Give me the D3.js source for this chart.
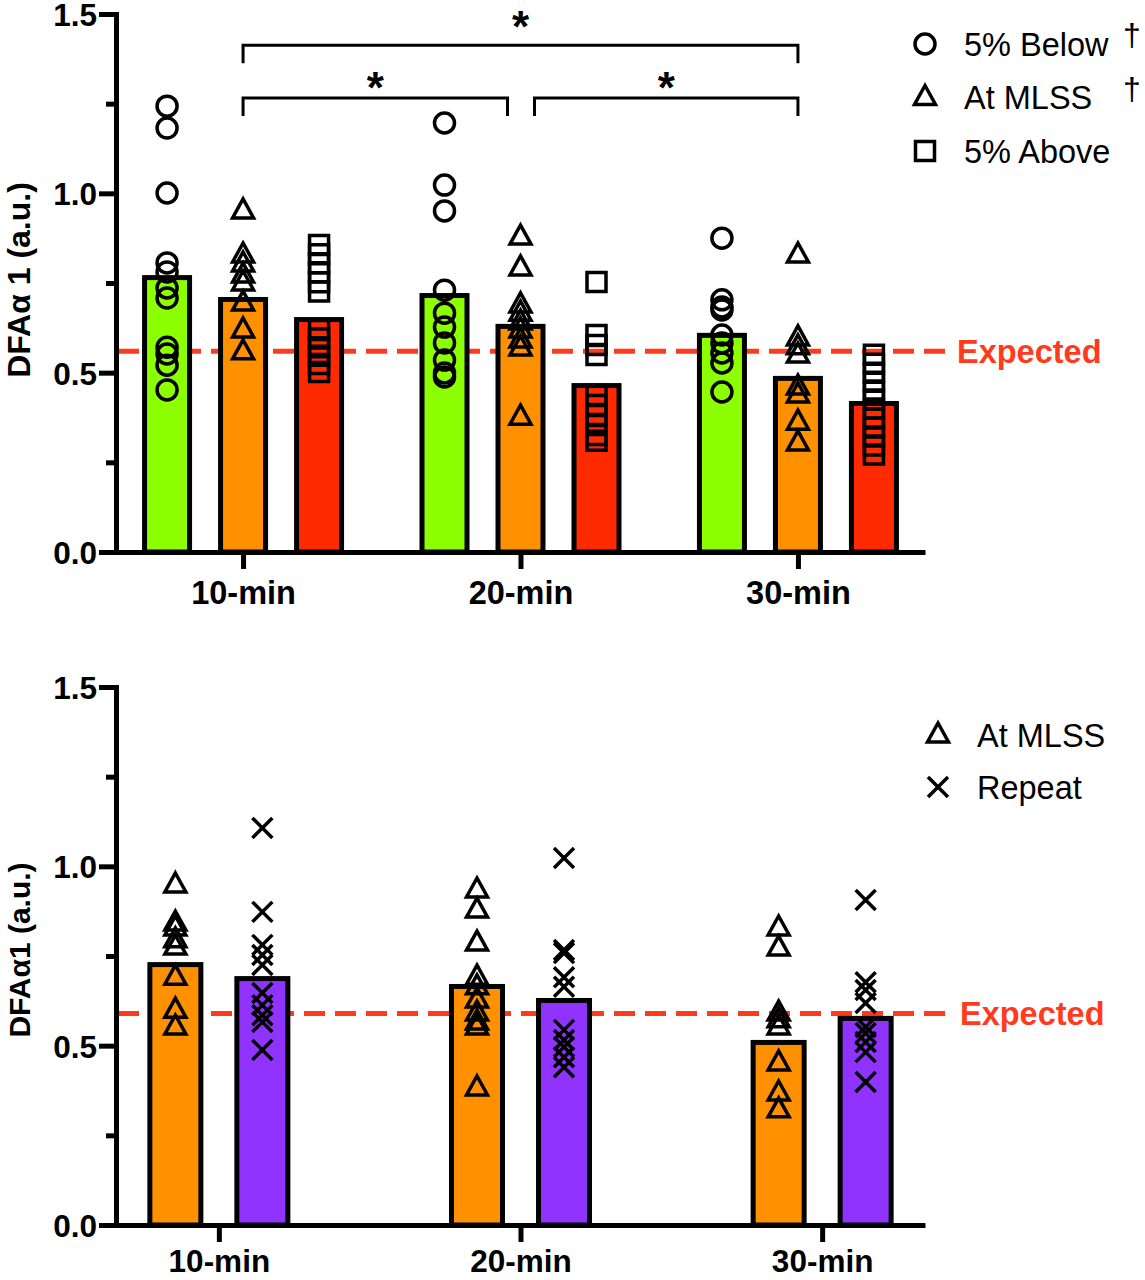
<!DOCTYPE html>
<html>
<head>
<meta charset="utf-8">
<script src="https://cdn.jsdelivr.net/npm/d3@7"></script>
<style>
  body { margin: 0; background: #fff; }
  svg { display: block; }
  text { font-family: "Liberation Sans", Arial, Helvetica, sans-serif; }
</style>
</head>
<body>
<svg id="chart" width="1145" height="1280"></svg>
<script>
// ---------- DATA ----------
const categories = ["10-min", "20-min", "30-min"];
const yTicks = [0, 0.5, 1.0, 1.5];
const yMinorTicks = [0.25, 0.75, 1.25];

// Top panel
const topSeries = ["5% Below", "At MLSS", "5% Above"];
const below5Means = [0.772, 0.722, 0.611];
const mlssMeans = [0.711, 0.636, 0.491];
const above5Means = [0.655, 0.471, 0.421];
const below5Points = [
  [1.243, 1.182, 1.001, 0.806, 0.781, 0.736, 0.708, 0.571, 0.552, 0.521, 0.452],
  [1.196, 1.023, 0.951, 0.730, 0.666, 0.627, 0.583, 0.535, 0.499, 0.488],
  [0.875, 0.703, 0.683, 0.675, 0.605, 0.583, 0.555, 0.527, 0.446]
];
const mlssPoints = [
  [0.951, 0.828, 0.803, 0.772, 0.750, 0.694, 0.619, 0.558],
  [0.878, 0.792, 0.689, 0.666, 0.641, 0.619, 0.591, 0.569, 0.376],
  [0.828, 0.597, 0.572, 0.549, 0.460, 0.438, 0.362, 0.304]
];
const above5Points = [
  [0.856, 0.830, 0.805, 0.780, 0.752, 0.726, 0.619, 0.595, 0.571, 0.547, 0.524, 0.502],
  [0.753, 0.605, 0.577, 0.549, 0.438, 0.410, 0.382, 0.354, 0.326, 0.310],
  [0.550, 0.525, 0.500, 0.475, 0.450, 0.425, 0.400, 0.372, 0.347, 0.322, 0.297, 0.272]
];
const topExpected = 0.56;
const topDaggers = ["5% Below", "At MLSS"];
const sigPairs = [["10-min", "30-min"], ["10-min", "20-min"], ["20-min", "30-min"]];
const sigLevels = [1.413, 1.266, 1.266];
const sigLabels = ["*", "*", "*"];

// Bottom panel
const bottomSeries = ["At MLSS", "Repeat"];
const mlss2Means = [0.733, 0.672, 0.516];
const repeatMeans = [0.694, 0.633, 0.583];
const mlss2Points = [
  [0.948, 0.842, 0.828, 0.795, 0.775, 0.691, 0.599, 0.552],
  [0.934, 0.878, 0.786, 0.691, 0.664, 0.627, 0.591, 0.566, 0.552, 0.382],
  [0.828, 0.772, 0.591, 0.572, 0.552, 0.452, 0.368, 0.321]
];
const repeatPoints = [
  [1.107, 0.873, 0.781, 0.753, 0.725, 0.647, 0.613, 0.585, 0.566, 0.488],
  [1.023, 0.767, 0.758, 0.691, 0.664, 0.544, 0.516, 0.496, 0.468, 0.440],
  [0.906, 0.677, 0.655, 0.619, 0.552, 0.535, 0.510, 0.482, 0.399]
];
const bottomExpected = 0.59;

// ---------- STYLE ----------
const colors = { "5% Below": "#8CFF00", "At MLSS": "#FF9100", "5% Above": "#FF2A00", "Repeat": "#9133FF" };
const shapes = { "5% Below": "circle", "At MLSS": "triangle", "5% Above": "square", "Repeat": "times" };
const expectedColor = "#FF3B1E";

const svg = d3.select("#chart");

function markerPath(shape) {
  const p = d3.path();
  if (shape === "circle") {
    p.moveTo(10, 0); p.arc(0, 0, 10, 0, 2 * Math.PI);
  } else if (shape === "triangle") {
    p.moveTo(0, -12); p.lineTo(10.5, 7); p.lineTo(-10.5, 7); p.closePath();
  } else if (shape === "square") {
    p.rect(-9.5, -9.5, 19, 19);
  } else if (shape === "times") {
    p.moveTo(-10, -10); p.lineTo(10, 10); p.moveTo(10, -10); p.lineTo(-10, 10);
  }
  return p.toString();
}

function panel(opts) {
  const g = svg.append("g");
  const y = d3.scaleLinear().domain([0, 1.5]).range([opts.yBottom, opts.yTop]);
  const x0 = d3.scalePoint().domain(categories).range([116, 925]).padding(opts.pad);
  const x1 = d3.scalePoint().domain(opts.series).range([-opts.inner, opts.inner]);

  // expected line
  g.append("line")
    .attr("x1", 118).attr("x2", opts.dashEnd)
    .attr("y1", y(opts.expected)).attr("y2", y(opts.expected))
    .attr("stroke", expectedColor).attr("stroke-width", 5)
    .attr("stroke-dasharray", "21,10");
  g.append("text")
    .attr("x", opts.expX).attr("y", y(opts.expected) + 11.5)
    .attr("fill", expectedColor).attr("font-weight", "bold").attr("font-size", 32.5)
    .text("Expected");

  // bars
  opts.series.forEach((s, si) => {
    const means = opts.means[si];
    g.append("g").selectAll("rect").data(categories).join("rect")
      .attr("x", c => x0(c) + x1(s) - opts.barW / 2 + 2.5)
      .attr("width", opts.barW - 5)
      .attr("y", (c, i) => y(means[i]) + 2.5)
      .attr("height", (c, i) => y(0) - y(means[i]) - 2.5)
      .attr("fill", colors[s]).attr("stroke", "#000").attr("stroke-width", 5);
  });

  // points
  opts.series.forEach((s, si) => {
    const pts = opts.points[si];
    const flat = [];
    categories.forEach((c, ci) => pts[ci].forEach(v => flat.push({ c, v })));
    g.append("g").selectAll("path").data(flat).join("path")
      .attr("transform", d => `translate(${x0(d.c) + x1(s)},${y(d.v)})`)
      .attr("d", markerPath(shapes[s]))
      .attr("fill", "none").attr("stroke", "#000")
      .attr("stroke-width", 3.5)
      .attr("stroke-linejoin", "miter");
  });

  // y axis
  const ya = g.append("g").attr("transform", "translate(116,0)")
    .call(d3.axisLeft(y).tickValues(yTicks).tickFormat(d3.format(".1f")).tickSize(17).tickSizeOuter(0).tickPadding(2));
  ya.select(".domain").attr("stroke-width", 5).attr("stroke-linecap", "square");
  ya.selectAll(".tick line").attr("stroke-width", 5);
  ya.selectAll(".tick text").attr("font-size", 31.5).attr("font-weight", "bold").attr("fill", "#000")
    .attr("font-family", "'Liberation Sans', Arial, sans-serif").attr("dy", "0.36em");
  const ym = g.append("g").attr("transform", "translate(116,0)")
    .call(d3.axisLeft(y).tickValues(yMinorTicks).tickFormat("").tickSize(10).tickSizeOuter(0));
  ym.select(".domain").remove();
  ym.selectAll(".tick line").attr("stroke-width", 5);

  // x axis
  const xa = g.append("g").attr("transform", `translate(0,${opts.yBottom})`)
    .call(d3.axisBottom(x0).tickSize(17).tickSizeOuter(0).tickPadding(opts.xPad));
  xa.select(".domain").attr("stroke-width", 5);
  xa.selectAll(".tick line").attr("stroke-width", 5);
  xa.selectAll(".tick text").attr("font-size", opts.xFont).attr("font-weight", "bold").attr("fill", "#000")
    .attr("font-family", "'Liberation Sans', Arial, sans-serif");

  // y label
  g.append("text")
    .attr("transform", `translate(${opts.labelX},${opts.labelY}) rotate(-90)`)
    .attr("text-anchor", "middle").attr("font-size", opts.labelSize).attr("font-weight", "bold")
    .text(opts.yLabel);

  // legend
  opts.series.forEach((s, i) => {
    const ly = opts.legY + i * opts.legStep;
    g.append("path").attr("transform", `translate(${opts.legX},${ly})`)
      .attr("d", markerPath(shapes[s])).attr("fill", "none").attr("stroke", "#000").attr("stroke-width", 3.5);
    g.append("text").attr("x", opts.legX + 39).attr("y", ly + 11.5)
      .attr("font-size", 32.5).text(s);
    if (opts.daggers && opts.daggers.includes(s)) {
      g.append("text").attr("x", 1123).attr("y", ly + 2).attr("font-size", 32).text("†");
    }
  });

  return { g, x0, x1, y };
}

const topPanel = panel({
  yTop: 14, yBottom: 552, pad: 0.458, inner: 76, barW: 50, xPad: 12, xFont: 32.5,
  series: topSeries, means: [below5Means, mlssMeans, above5Means],
  points: [below5Points, mlssPoints, above5Points],
  expected: topExpected, dashEnd: 946, expX: 957,
  yLabel: "DFAα 1 (a.u.)", labelX: 30, labelY: 280, labelSize: 32,
  legX: 925, legY: 44, legStep: 53.5, daggers: topDaggers
});

// significance brackets
sigPairs.forEach((pair, i) => {
  const lvl = topPanel.y(sigLevels[i]);
  const nested = sigLevels[i] < d3.max(sigLevels);
  let xa = topPanel.x0(pair[0]), xb = topPanel.x0(pair[1]);
  if (nested) {
    if (pair[1] === "20-min") xb -= 13;
    if (pair[0] === "20-min") xa += 14;
  }
  const p = d3.path();
  p.moveTo(xa, lvl + 18); p.lineTo(xa, lvl); p.lineTo(xb, lvl); p.lineTo(xb, lvl + 18);
  topPanel.g.append("path").attr("d", p.toString()).attr("fill", "none")
    .attr("stroke", "#000").attr("stroke-width", 3);
  topPanel.g.append("text").attr("x", (xa + xb) / 2).attr("y", lvl + (nested ? 5 : -3))
    .attr("text-anchor", "middle").attr("font-size", 44).attr("font-weight", "bold")
    .text(sigLabels[i]);
});

panel({
  yTop: 687, yBottom: 1225, pad: 0.341, inner: 43.5, barW: 56, xPad: 8, xFont: 31.5,
  series: bottomSeries, means: [mlss2Means, repeatMeans],
  points: [mlss2Points, repeatPoints],
  expected: bottomExpected, dashEnd: 948, expX: 960,
  yLabel: "DFAα1 (a.u.)", labelX: 30, labelY: 950, labelSize: 30,
  legX: 938, legY: 735, legStep: 52, daggers: null
});
</script>
</body>
</html>
